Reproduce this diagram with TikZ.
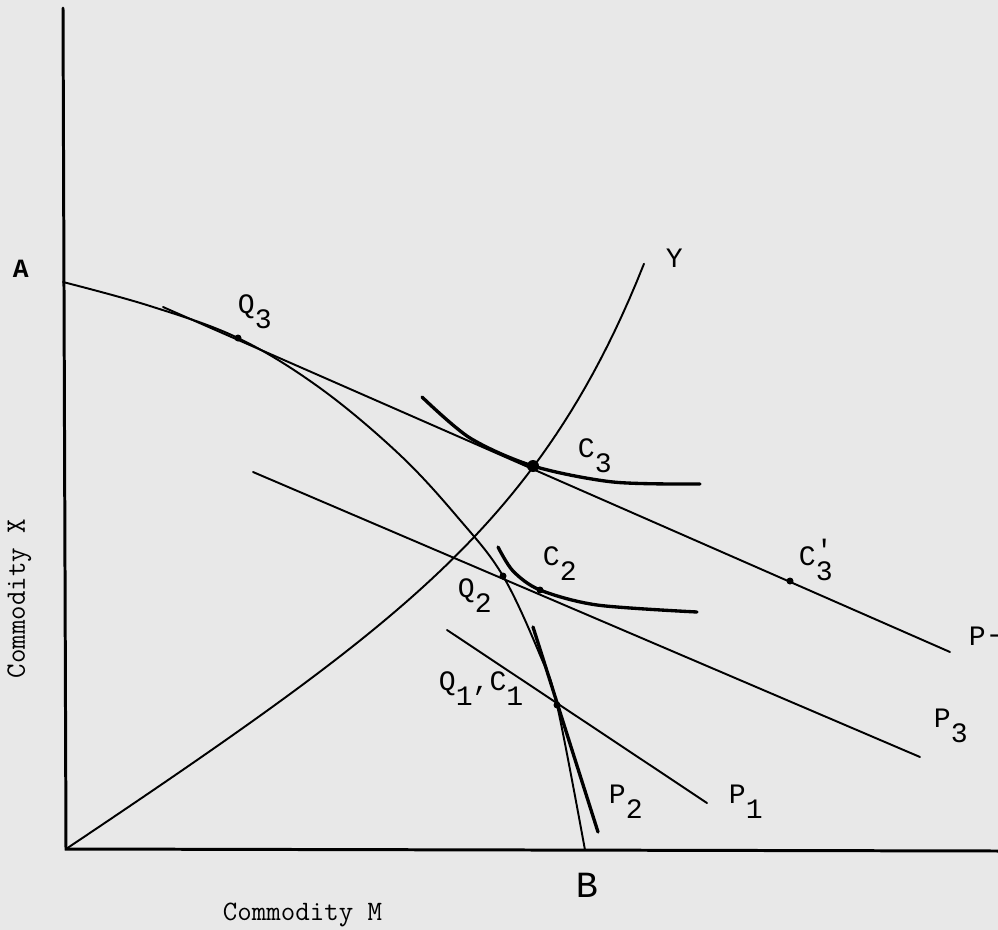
\documentclass[tikz,border=0pt]{standalone}
\usepackage{fontspec}
\newfontfamily\labfont{Liberation Mono}
\newcommand\sublab[2]{#1\raisebox{-9pt}{#2}}
\begin{document}
\begin{tikzpicture}[x=0.02cm, y=-0.02cm, line width=1.1pt, line cap=round,
	lab/.style={font=\labfont\fontsize{16}{19}\selectfont, inner sep=0pt, anchor=base west},
	axistitle/.style={font=\ttfamily\fontsize{16}{19}\selectfont, inner sep=0pt, anchor=base west},
	heavy/.style={line width=1.9pt}]
	
	\fill[black!9] (0,0) rectangle (998,930);
	\useasboundingbox (0,0) rectangle (998,930);
	
	\coordinate (O) at (66,849);
	\coordinate (top) at (63,8);
	\coordinate (right) at (998,851);
	\coordinate (A) at (63,282);
	\coordinate (B) at (585,850);
	
	\coordinate (Q3) at (238,338);
	\coordinate (C3) at (533,466);
	\coordinate (C2) at (540,590);
	\coordinate (Q2) at (503,576);
	\coordinate (QC1) at (557,705);
	\coordinate (C3p) at (790,581);
	
	\coordinate (p4s) at (163,307);  \coordinate (p4e) at (950,652);
	\coordinate (p3s) at (253,472);  \coordinate (p3e) at (920,757);
	\coordinate (p1s) at (447,630);  \coordinate (p1e) at (707,803);
	\coordinate (p2s) at (533,627);  \coordinate (p2e) at (598,832);
	
	\draw[line width=1.7pt] (top) -- (O) -- (right);
	
	\draw plot[smooth, tension=0.6] coordinates {(A) (150,306) (Q3) (320,388) (400,455) (460,520) (Q2) (540,655) (QC1) (B)};
	\draw[domain=0:578, samples=80, variable=\t, shift={(O)}]
		plot ({\t}, {-0.66*\t-1.07*(exp(\t/110)-1)});
	
	\draw (p4s) -- (p4e);
	\draw (p3s) -- (p3e);
	\draw (p1s) -- (p1e);
	\draw[heavy] (p2s) -- (p2e);
	
	\draw[heavy] plot[smooth] coordinates {(422,397) (470,438) (C3) (613,482) (700,484)};
	\draw[heavy] plot[smooth] coordinates {(498,547) (513,571) (C2) (597,605) (697,612)};
	
	\fill (C3) circle (6);
	\foreach \p in {Q3, C2, Q2, QC1, C3p}
		\fill (\p) circle (3.5);
	
	\node[lab, font=\labfont\bfseries\fontsize{15}{18}\selectfont] (labA) at (12,277) {A};
	\node[lab] (labY) at (665,267) {Y};
	\node[lab] (labQ3) at (237,313) {\sublab{Q}{3}};
	\node[lab] (labC3) at (577,457) {\sublab{C}{3}};
	\node[lab] (labC2) at (542,565) {\sublab{C}{2}};
	\node[lab] (labQ2) at (457,597) {\sublab{Q}{2}};
	\node[lab] (labQC1) at (438,690) {\sublab{Q}{1},\sublab{C}{1}};
	\node[lab] (labC3p) at (798,565) {C\raisebox{-9pt}{\rlap{\raisebox{12pt}{'}}3}};
	\node[lab] (labP) at (968,645) {P\raisebox{1pt}{-}};
	\node[lab] (labP3) at (933,727) {\sublab{P}{3}};
	\node[lab] (labP1) at (728,803) {\sublab{P}{1}};
	\node[lab] (labP2) at (608,803) {\sublab{P}{2}};
	\node[lab, font=\labfont\fontsize{21}{23}\selectfont] (labB) at (575,897) {B};
	
	\node[axistitle] (titleM) at (222,920) {Commodity M};
	\node[axistitle, rotate=90] (titleX) at (25,679) {Commodity X};
	
\end{tikzpicture}
\end{document}
